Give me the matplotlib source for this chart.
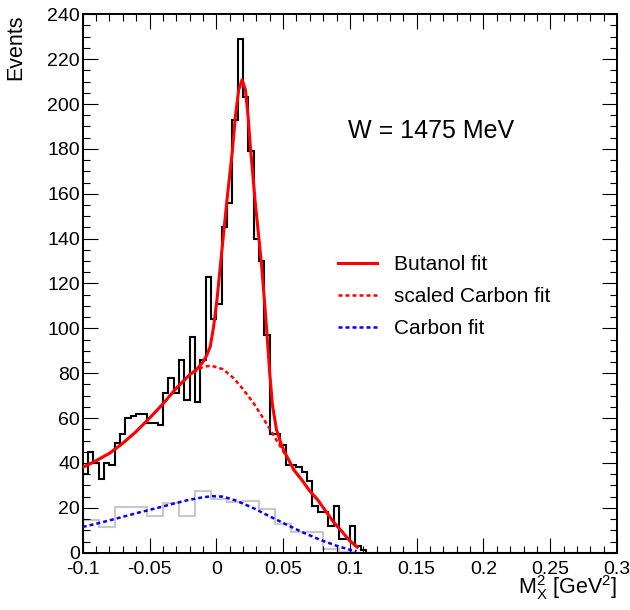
import numpy as np
import matplotlib
matplotlib.use("Agg")
import matplotlib.pyplot as plt
from matplotlib.ticker import MultipleLocator

plt.rcParams['font.family'] = ['Liberation Sans', 'DejaVu Sans']
plt.rcParams['mathtext.fontset'] = 'custom'
plt.rcParams['mathtext.rm'] = 'Liberation Sans'
plt.rcParams['mathtext.it'] = 'Liberation Sans:italic'
plt.rcParams['axes.unicode_minus'] = False

# butanol data, 0.004 GeV^2 bins starting at -0.1 (bins after the last are empty)
butanol_counts = [35, 45, 40, 33, 40, 39, 49, 53, 60, 61,
                  62, 62, 58, 58, 57, 71, 78, 71, 86, 68,
                  96, 67, 86, 123, 104, 111, 145, 156, 193, 229,
                  203, 179, 140, 130, 97, 53, 53, 48, 39, 39,
                  38, 36, 32, 21, 18, 18, 12, 21, 6, 6,
                  12, 3, 1]
# carbon data, 0.012 GeV^2 bins starting at -0.1
carbon_counts = [14.6, 11.6, 20.5, 20.5, 16.5, 22.3, 16.5, 27.5, 24.0, 22.5,
                 23.0, 19.5, 12.9, 9.4, 9.4, 1.5, 0.5]

# fit curves
butanol_fit_x = [-0.100, -0.090, -0.080, -0.070, -0.060, -0.050, -0.040, -0.030,
                 -0.020, -0.015, -0.010, -0.007, -0.0045, -0.002, 0.0005, 0.003,
                 0.0055, 0.008, 0.010, 0.012, 0.0143, 0.0168, 0.0193, 0.0218,
                 0.0238, 0.0255, 0.0273, 0.029, 0.0315, 0.034, 0.036, 0.038,
                 0.040, 0.042, 0.045, 0.048, 0.051, 0.055, 0.058, 0.064,
                 0.070, 0.076, 0.082, 0.088, 0.094, 0.100, 0.1055]
butanol_fit_y = [38.0, 41.0, 44.3, 48.8, 54.0, 60.0, 66.3, 73.3,
                 79.3, 81.5, 85.0, 88.2, 92.0, 100.8, 112.7, 127.6,
                 142.5, 157.2, 168.0, 179.0, 194.5, 206.4, 210.8, 206.4,
                 194.5, 181.0, 169.0, 157.0, 142.5, 127.6, 112.7, 97.0,
                 80.0, 66.0, 55.0, 49.5, 45.0, 40.5, 36.9, 32.5,
                 27.5, 23.5, 18.5, 13.5, 9.5, 5.3, 2.5]

scaled_fit_x = [-0.100, -0.090, -0.080, -0.070, -0.060, -0.050, -0.040, -0.030,
                -0.020, -0.010, -0.004, 0.005, 0.013, 0.020, 0.028, 0.034,
                0.040, 0.048, 0.053, 0.058, 0.064, 0.070, 0.076, 0.082,
                0.088, 0.094, 0.100, 0.1055]
scaled_fit_y = [38.0, 41.0, 44.3, 48.8, 54.0, 60.0, 66.3, 73.3,
                79.3, 82.8, 83.4, 81.8, 77.8, 72.9, 66.6, 61.0,
                55.2, 47.3, 42.3, 37.2, 32.5, 27.5, 23.5, 18.5,
                13.5, 9.5, 5.3, 2.5]

carbon_fit_x = [-0.100, -0.090, -0.080, -0.070, -0.060, -0.050, -0.040, -0.030,
                -0.020, -0.010, -0.003, 0.005, 0.015, 0.028, 0.040, 0.053,
                0.065, 0.078, 0.090, 0.100, 0.105]
carbon_fit_y = [11.5, 12.9, 14.4, 16.0, 17.6, 19.1, 20.6, 22.2,
                23.6, 24.7, 25.2, 25.0, 23.2, 19.8, 16.2, 12.4,
                9.0, 5.7, 3.1, 1.3, 0.7]

x_ticks = [-0.1, -0.05, 0, 0.05, 0.1, 0.15, 0.2, 0.25, 0.3]
x_ticklabels = ["-0.1", "-0.05", "0", "0.05", "0.1", "0.15", "0.2", "0.25", "0.3"]
y_ticks = list(range(0, 241, 20))

# pad empty bins so the histograms span the whole axis
but_edges = np.linspace(-0.1, 0.3, 101)
but_vals = np.concatenate([butanol_counts, np.zeros(100 - len(butanol_counts))])
c_edges = -0.1 + 0.012 * np.arange(34)
c_vals = np.concatenate([carbon_counts, np.zeros(33 - len(carbon_counts))])

fig = plt.figure(figsize=(6.3, 6.1), dpi=100)
ax = fig.add_axes([0.1313, 0.0939, 0.8481, 0.8827])

ax.stairs(c_vals, c_edges, color='#c8c8c8', lw=1.5, zorder=1)
ax.stairs(but_vals, but_edges, color='black', lw=1.5, zorder=2)

ax.plot(carbon_fit_x, carbon_fit_y, color='blue', lw=1.8,
        linestyle=(0, (1.6, 1.2)), label='Carbon fit', zorder=3)
ax.plot(scaled_fit_x, scaled_fit_y, color='red', lw=1.8,
        linestyle=(0, (1.6, 1.2)), label='scaled Carbon fit', zorder=3)
ax.plot(butanol_fit_x, butanol_fit_y, color='red', lw=2.2,
        label='Butanol fit', zorder=4)

ax.set_xlim(-0.1, 0.3)
ax.set_ylim(0, 240)
ax.set_xticks(x_ticks)
ax.set_xticklabels(x_ticklabels)
ax.set_yticks(y_ticks)
ax.xaxis.set_minor_locator(MultipleLocator(0.01))
ax.yaxis.set_minor_locator(MultipleLocator(5))
ax.tick_params(which='both', direction='in', top=True, right=True,
               width=0.8, labelsize=14)
ax.tick_params(which='major', length=10.5)
ax.tick_params(which='minor', length=5)
ax.tick_params(axis='x', pad=6)
ax.tick_params(axis='y', pad=2)
for sp in ax.spines.values():
    sp.set_linewidth(1.4)

ax.set_ylabel('Events', fontsize=15.5, loc='top')
ax.yaxis.set_label_coords(-0.105, 1.0)
ax.set_xlabel(r'M$^{2}_{\mathrm{X}}$ [GeV$^{2}$]', fontsize=15.5, loc='right')
ax.xaxis.set_label_coords(1.0, -0.037)

ax.text(0.4966, 0.783, 'W = 1475 MeV', transform=ax.transAxes,
        fontsize=18, va='center', ha='left')

handles, labels = ax.get_legend_handles_labels()
order = [2, 1, 0]
ax.legend([handles[i] for i in order], [labels[i] for i in order],
          loc='upper left', bbox_to_anchor=(0.478, 0.552), frameon=False,
          fontsize=15, handlelength=1.85, handletextpad=0.85,
          labelspacing=0.62, borderpad=0, borderaxespad=0)

fig.savefig('out.png', dpi=100)
